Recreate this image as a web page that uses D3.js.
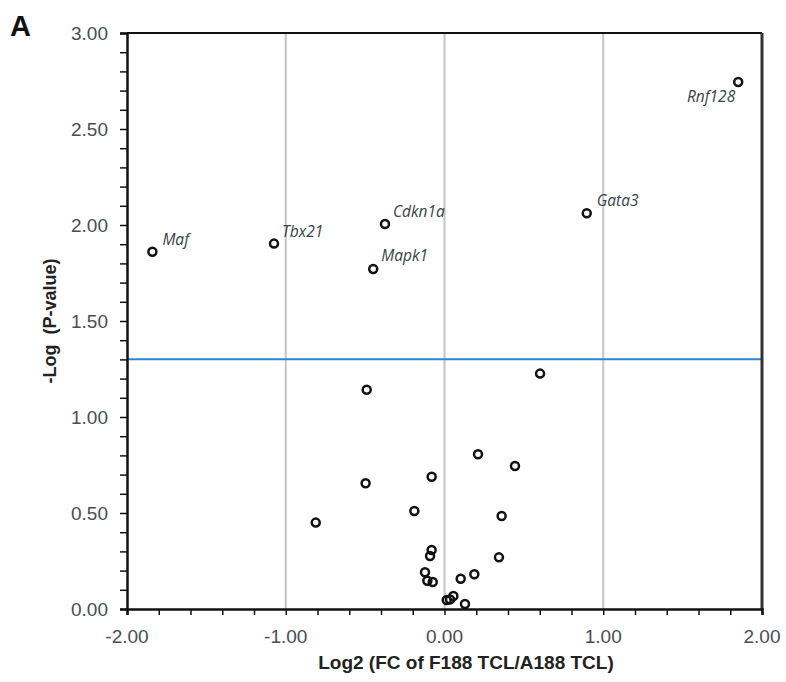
<!DOCTYPE html>
<html><head><meta charset="utf-8">
<script src="https://cdn.jsdelivr.net/npm/d3@7"></script>
<style>body{margin:0;background:#fff}svg{display:block}</style>
</head><body>
<script>
const genes = ["Rnf128","Gata3","Maf","Tbx21","Cdkn1a","Mapk1"];
const geneX = [1.85, 0.896, -1.84, -1.074, -0.375, -0.449];
const geneY = [2.745, 2.061, 1.861, 1.903, 2.005, 1.771];
const otherX = [-0.49, 0.602, 0.211, 0.444, -0.497, -0.081, -0.19, 0.36, -0.811, -0.081, -0.091, 0.343, -0.123, -0.108, -0.074, 0.188, 0.102, 0.056, 0.014, 0.035, 0.129];
const otherY = [1.142, 1.226, 0.806, 0.745, 0.655, 0.689, 0.51, 0.484, 0.45, 0.307, 0.276, 0.269, 0.191, 0.147, 0.141, 0.181, 0.158, 0.068, 0.047, 0.05, 0.026];
const xTicks = [-2, -1, 0, 1, 2];
const yTicks = [0, 0.5, 1, 1.5, 2, 2.5, 3];
const gridX = [-1, 0, 1];
const threshold = 1.301;
const xTitle = "Log2 (FC of F188 TCL/A188 TCL)";
const yTitle = "-Log  (P-value)";

const W = 786, H = 682;
const L = 127, R = 762, T = 33, B = 609;
const svg = d3.select("body").append("svg").attr("width", W).attr("height", H);
const x = d3.scaleLinear().domain([-2, 2]).range([L, R]);
const y = d3.scaleLinear().domain([0, 3]).range([B, T]);
const fmt = d => d3.format(".2f")(d).replace("\u2212", "-");

// grid lines
svg.selectAll(".gx").data(gridX).enter().append("line")
  .attr("x1", d => x(d)).attr("x2", d => x(d)).attr("y1", T).attr("y2", B)
  .attr("stroke", "#c4c4c4").attr("stroke-width", 2);

// threshold line
svg.append("line").attr("x1", L).attr("x2", R).attr("y1", y(threshold)).attr("y2", y(threshold))
  .attr("stroke", "#2a84d8").attr("stroke-width", 2);

// frame top/right
svg.append("line").attr("x1", L).attr("x2", R).attr("y1", T).attr("y2", T).attr("stroke", "#111").attr("stroke-width", 2);
svg.append("line").attr("x1", R).attr("x2", R).attr("y1", T).attr("y2", B).attr("stroke", "#333").attr("stroke-width", 3);

// axes
const xAxis = d3.axisBottom(x).tickValues(d3.range(-2, 2.001, 0.2)).tickSize(6).tickFormat("");
const gx = svg.append("g").attr("transform", `translate(0,${B})`).call(xAxis);
gx.select(".domain").attr("stroke", "#111").attr("stroke-width", 2.5);
gx.selectAll(".tick line").attr("stroke", "#111").attr("stroke-width", 1.5);

const yAxis = d3.axisLeft(y).tickValues(d3.range(0, 3.001, 0.1)).tickSize(7).tickFormat("");
const gy = svg.append("g").attr("transform", `translate(${L},0)`).call(yAxis);
gy.select(".domain").attr("stroke", "#111").attr("stroke-width", 2.5);
gy.selectAll(".tick line").attr("stroke", "#111").attr("stroke-width", 1.5);

// tick labels
svg.selectAll(".xl").data(xTicks).enter().append("text")
  .attr("x", d => x(d)).attr("y", B + 34).attr("text-anchor", "middle")
  .attr("font-family", "Liberation Sans, Arial, sans-serif").attr("font-size", 19).attr("fill", "#4a4d55")
  .text(fmt);
svg.selectAll(".yl").data(yTicks).enter().append("text")
  .attr("x", 108).attr("y", d => y(d) + 7).attr("text-anchor", "end")
  .attr("font-family", "Liberation Sans, Arial, sans-serif").attr("font-size", 19).attr("fill", "#4a4d55")
  .text(fmt);

// titles
svg.append("text").attr("x", 466).attr("y", 669).attr("text-anchor", "middle")
  .attr("font-family", "Liberation Sans, Arial, sans-serif").attr("font-size", 19).attr("font-weight", "bold").attr("fill", "#222")
  .text(xTitle);
svg.append("text").attr("transform", `translate(56,${(T + B) / 2}) rotate(-90)`).attr("text-anchor", "middle")
  .attr("xml:space", "preserve").style("white-space", "pre")
  .attr("font-family", "Liberation Sans, Arial, sans-serif").attr("font-size", 18).attr("font-weight", "bold").attr("fill", "#222")
  .text(yTitle);
svg.append("text").attr("x", 10).attr("y", 36)
  .attr("font-family", "Liberation Sans, Arial, sans-serif").attr("font-size", 29).attr("font-weight", "bold").attr("fill", "#111")
  .text("A");

// points
const allX = otherX.concat(geneX), allY = otherY.concat(geneY);
svg.selectAll(".pt").data(allX.map((v, i) => [v, allY[i]])).enter().append("circle")
  .attr("cx", d => x(d[0])).attr("cy", d => y(d[1])).attr("r", 4)
  .attr("fill", "none").attr("stroke", "#111").attr("stroke-width", 2.5);

// gene labels
const offs = {Rnf128: [-3, 20, "end"], Gata3: [10, -7, "start"], Maf: [10, -7, "start"], Tbx21: [8, -7, "start"], Cdkn1a: [8, -7, "start"], Mapk1: [8, -8, "start"]};
svg.selectAll(".gl").data(genes).enter().append("text")
  .attr("x", (d, i) => x(geneX[i]) + offs[d][0]).attr("y", (d, i) => y(geneY[i]) + offs[d][1])
  .attr("text-anchor", d => offs[d][2])
  .attr("font-family", "Open Sans, sans-serif").attr("font-size", 15.5).attr("font-style", "italic").attr("fill", "#3a3f4a")
  .text(d => d);
</script>
</body></html>
